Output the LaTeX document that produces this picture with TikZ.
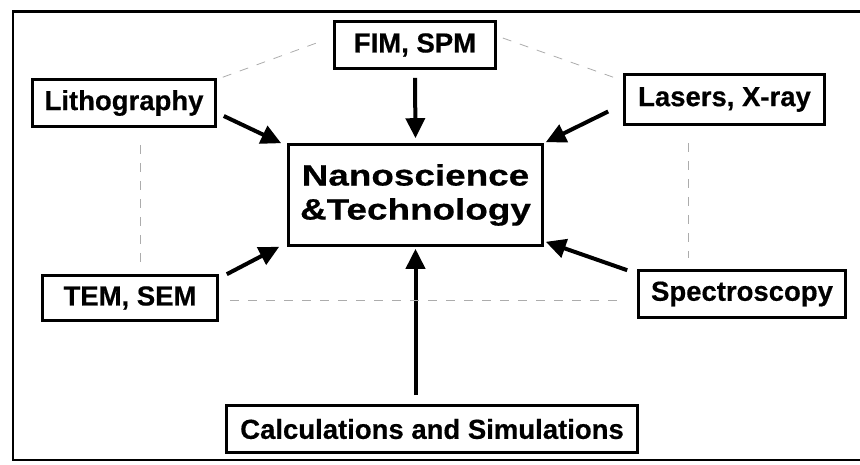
\documentclass[tikz,border=0pt]{standalone}
\usepackage{fontspec}
\setmainfont{Liberation Sans}[BoldFeatures={FakeBold=0.5}]
\newfontfamily\widefont{Liberation Sans}[FakeStretch=1.25, BoldFeatures={FakeBold=0.5}]
\usetikzlibrary{arrows.meta}

\begin{document}
\begin{tikzpicture}[auto, x=1pt, y=-1pt,
    technique/.style ={draw, line width=2.6pt, inner sep=0pt,
                       font=\fontsize{27.5}{30}\selectfont\bfseries},
    centre/.style ={draw, line width=2.6pt, inner sep=0pt, align=center,
                    font=\widefont\fontsize{29.5}{34}\selectfont\bfseries},
    feed/.style ={line width=4pt, -{Triangle[length=20pt,width=19pt]}},
    link/.style ={gray!65, line width=0.8pt, dash pattern=on 9pt off 9pt}]
   \useasboundingbox (0,0) rectangle (860,464);
   % frame, open on the right
   \draw[line width=2.2pt] (860,11.5) -- (13,11.5) -- (13,460) -- (860,460);
   \node[centre, minimum width=254pt, minimum height=101pt] (nano) at (415.5,195) {Nanoscience\\\&Technology};
   \node[technique, minimum width=161pt, minimum height=47pt] (fim) at (415,45) {FIM, SPM};
   \node[technique, minimum width=183pt, minimum height=47pt] (litho) at (124,103) {Lithography};
   \node[technique, minimum width=200pt, minimum height=50pt] (lasers) at (724.5,99.5) {Lasers, X-ray};
   \node[technique, minimum width=175pt, minimum height=45pt] (tem) at (130,298) {TEM, SEM};
   \node[technique, minimum width=207pt, minimum height=47pt] (spec) at (742,294) {Spectroscopy};
   \node[technique, minimum width=411pt, minimum height=47pt] (calc) at (432,429) {Calculations and Simulations};
   % arrows into the centre
   \draw[feed] ([shift={(7,13)}]litho.east) to ([shift={(-6,0)}]nano.north west);
   \draw[feed] ([shift={(0,8)}]fim.south) to ([shift={(0,-5)}]nano.north);
   \draw[feed] ([shift={(-15,12)}]lasers.west) to ([shift={(2,-1)}]nano.north east);
   \draw[feed] ([shift={(8,0)}]tem.north east) to ([shift={(-8,0)}]nano.south west);
   \draw[feed] ([shift={(-10,1)}]spec.north west) to ([shift={(2,-5)}]nano.south east);
   \draw[feed] ([shift={(0,-9)}]nano.south |- calc.north) to ([shift={(0,2)}]nano.south);
   % dashed links
   \draw[link] ([shift={(6,-1)}]litho.north east) to ([shift={(-14,-3)}]fim.west);
   \draw[link] ([shift={(6,-7)}]fim.east) to ([shift={(-10,4)}]lasers.north west);
   \draw[link] ([shift={(16,17)}]litho.south) to ([shift={(10,-11)}]tem.north);
   \draw[link] ([shift={(-36.5,17)}]lasers.south) to ([shift={(-54,-11)}]spec.north);
   \draw[link] ([shift={(11,2)}]tem.east) to ([shift={(-17,6)}]spec.west);
 \end{tikzpicture}
\end{document}
